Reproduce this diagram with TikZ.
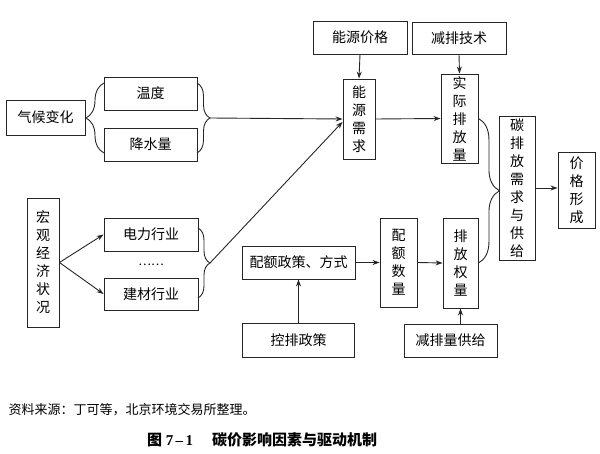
\documentclass[tikz,border=0pt]{standalone}
\usepackage{fontspec}
\setmainfont{Liberation Serif}
\newfontfamily\cjk{Noto Sans CJK SC}
\usetikzlibrary{arrows.meta,decorations.pathreplacing}

\tikzset{
    box/.style={draw=black!85, line width=0.9pt, inner sep=0pt, align=center,
        font=\cjk\fontsize{14}{18}\selectfont},
    curly/.style={draw=black!85, line width=0.9pt, decorate,
        decoration={brace, amplitude=#1}},
    link/.style={draw=black!85, line width=0.9pt, ->},
}

\begin{document}
\begin{tikzpicture}[x=1pt, y=-1pt, >={Stealth[length=7pt,width=5pt]}]
    \useasboundingbox (0,0) rectangle (600,454);

    % climate branch
    \node[box, minimum width=79, minimum height=35] (climate) at (45.5,117.5) {气候变化};
    \node[box, minimum width=93, minimum height=33] (temp) at (150.5,93.5) {温度};
    \node[box, minimum width=93, minimum height=33] (rain) at (150.5,144.5) {降水量};
    \draw[curly=18pt] (104,153) -- (104,83);
    \draw[curly=13pt] (197,83) -- (197,153);
    \coordinate (climtip) at (210,118);

    % economy branch
    \node[box, minimum width=32, minimum height=129] (macro) at (43,262.5) {宏\\观\\经\\济\\状\\况};
    \node[box, minimum width=94, minimum height=33] (power) at (151,234.5) {电力行业};
    \node[font=\cjk\fontsize{12}{14}\selectfont] (dots) at (151,264.5) {……};
    \node[box, minimum width=94, minimum height=32] (build) at (151,294) {建材行业};
    \draw[link] (macro.east) -- (power.west);
    \draw[link] (macro.east) -- (build.west);
    \draw[curly=12pt] (198,228) -- (198,298);
    \coordinate (econtip) at (210,263);

    % energy demand and emissions
    \node[box, minimum width=94, minimum height=33] (eprice) at (360,37.5) {能源价格};
    \node[box, minimum width=94, minimum height=32] (tech) at (459,38) {减排技术};
    \node[box, minimum width=32, minimum height=80] (demand) at (359,119) {能\\源\\需\\求};
    \node[box, minimum width=37, minimum height=89] (actual) at (459.5,118.5) {实\\际\\排\\放\\量};
    \draw[link] (eprice.south) -- (demand.north);
    \draw[link] (tech.south) -- (actual.north);
    \draw[link] (climtip) -- (demand.west);
    \draw[link] (econtip) -- (demand.190);
    \draw[link] (demand.east) -- (actual.west);

    % quota side
    \node[box, minimum width=113, minimum height=33] (policy) at (298.5,262.5) {配额政策、方式};
    \node[box, minimum width=112, minimum height=34] (control) at (298.5,340) {控排政策};
    \node[box, minimum width=37, minimum height=89] (quota) at (398.5,262.5) {配\\额\\数\\量};
    \node[box, minimum width=35, minimum height=90] (permit) at (460.5,263) {排\\放\\权\\量};
    \node[box, minimum width=93, minimum height=33] (offset) at (450.5,340.5) {减排量供给};
    \draw[link] (control.north) -- (policy.south);
    \draw[link] (policy.east) -- (quota.west);
    \draw[link] (quota.east) -- (permit.west);
    \draw[link] (permit.south |- offset.north) -- (permit.south);

    % supply, demand and price
    \node[box, minimum width=36, minimum height=144] (market) at (517,188) {碳\\排\\放\\需\\求\\与\\供\\给};
    \node[box, minimum width=37, minimum height=76] (price) at (576.5,190) {价\\格\\形\\成};
    \draw[curly=21pt] (actual.east) -- (permit.east);
    \draw[link] (market.east) -- (market.east -| price.west);

    % source and caption
    \node[anchor=west, font=\cjk\fontsize{13}{15}\selectfont] (source) at (5,410) {资料来源：丁可等，北京环境交易所整理。};
    \node[font=\bfseries\fontsize{15}{18}\selectfont] (caption) at (262,440)
        {{\cjk 图}\ 7\,--\,1\quad\ {\cjk 碳价影响因素与驱动机制}};
\end{tikzpicture}
\end{document}
